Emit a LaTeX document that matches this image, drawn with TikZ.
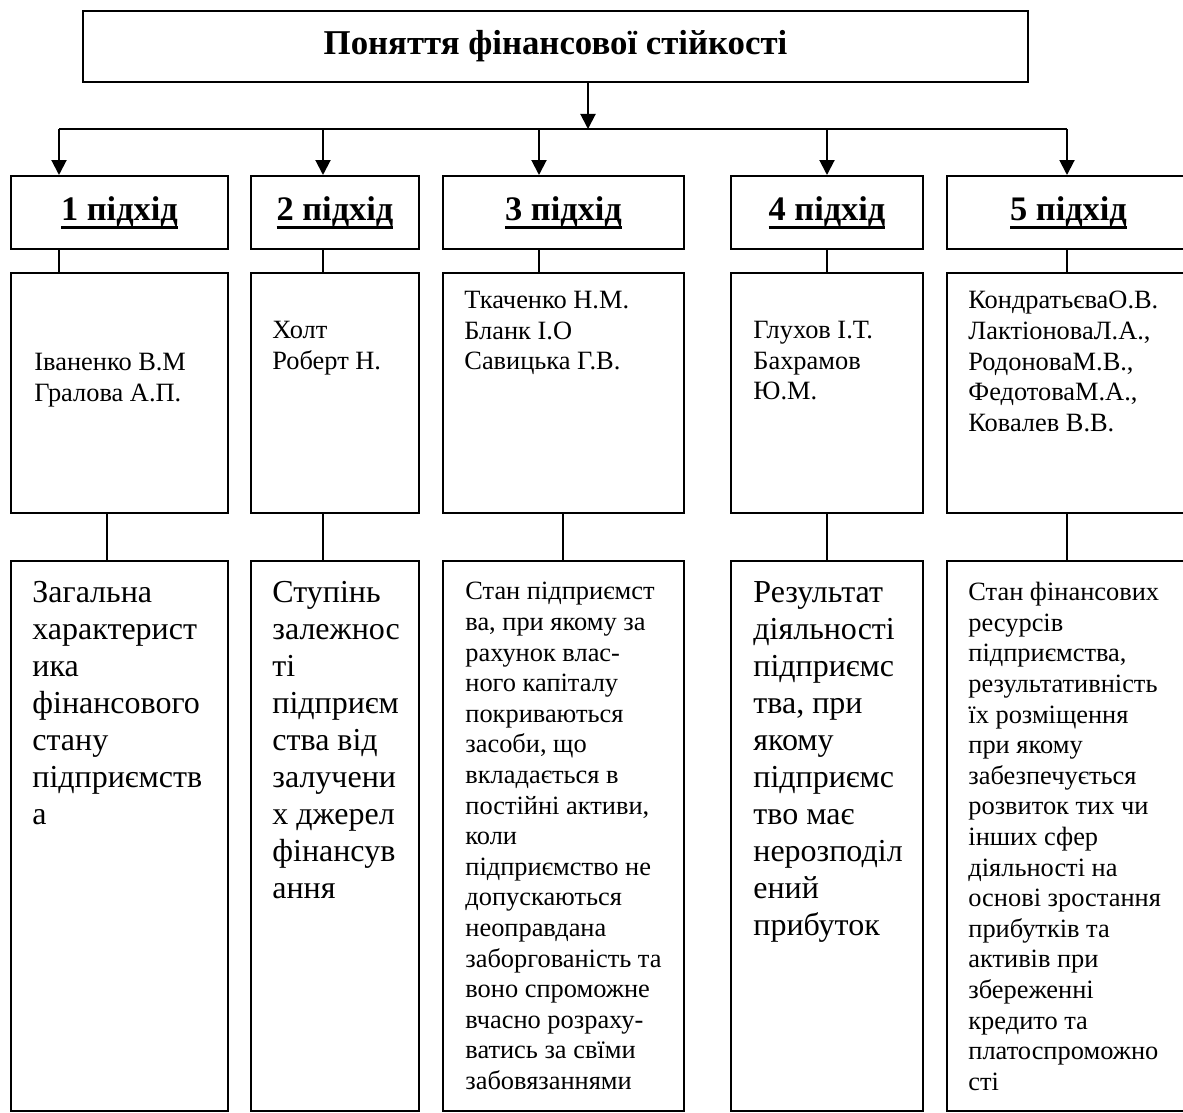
\documentclass[tikz,border=0pt]{standalone}
\usepackage{fontspec}
\setmainfont{Liberation Serif}
\usetikzlibrary{arrows.meta}
\newcommand{\headul}[1]{\setbox0\hbox{#1}\rlap{\rule[-4.2pt]{\wd0}{1.5pt}}\box0}

\begin{document}
\begin{tikzpicture}[x=0.5pt,y=-0.5pt,
  box/.style={draw,line width=1pt,inner sep=0pt},
  headbox/.style={box,minimum height=36.5pt,font=\fontsize{17.2}{20}\selectfont\bfseries},
  names/.style={anchor=north west,inner sep=0pt,align=left,font=\fontsize{13.2}{15.3}\selectfont},
  bigtxt/.style={anchor=north west,inner sep=0pt,align=left,font=\fontsize{16}{18.5}\selectfont},
  arr/.style={line width=1pt,-{Triangle[width=7.5pt,length=7.5pt]}},
  link/.style={line width=0.9pt}]
\useasboundingbox (0,0) rectangle (1183,1113);
\clip (0,0) rectangle (1183,1113);
% top box
\node[box,minimum width=472.5pt,minimum height=35.5pt,font=\fontsize{17.4}{20}\selectfont\bfseries] (title) at (555.5,46.5) {Поняття фінансової стійкості};
% five columns: frames and links
\foreach \n/\xl/\xr/\xa/\xb in {1/11/228/59/107,2/251/419/323/323,3/443/684/539/563,4/731/923/827/827,5/947/1190/1067/1067}{
  \node[headbox,minimum width={(\xr-\xl)*0.5pt}] (a\n) at ({(\xl+\xr)/2},212.5) {\headul{\n~підхід}};
  \node[box,minimum width={(\xr-\xl)*0.5pt},minimum height=120pt] (m\n) at ({(\xl+\xr)/2},393) {};
  \node[box,minimum width={(\xr-\xl)*0.5pt},minimum height=275pt] (l\n) at ({(\xl+\xr)/2},836) {};
  \coordinate (k\n) at (\xa,129);
  \coordinate (j\n) at (\xb,537);
  \draw[arr] (k\n) -- (k\n |- a\n.north);
  \draw[link] (a\n.south -| k\n) -- (m\n.north -| k\n);
  \draw[link] (m\n.south -| j\n) -- (l\n.north -| j\n);
}
\coordinate (hub) at (588,129);
\draw[arr] (title.south -| hub) -- (hub);
\draw[link] (k1) -- (k5);
% authors
\node[names] (n1) at (34,353) {Іваненко В.М\\Гралова А.П.};
\node[names] (n2) at (272,321) {Холт\\Роберт Н.};
\node[names] (n3) at (464,291) {Ткаченко Н.М.\\Бланк І.О\\Савицька Г.В.};
\node[names] (n4) at (753,321) {Глухов І.Т.\\Бахрамов\\Ю.М.};
\node[names] (n5) at (968,291) {КондратьєваО.В.\\ЛактіоноваЛ.А.,\\РодоноваМ.В.,\\ФедотоваМ.А.,\\Ковалев В.В.};
% definitions
\node[bigtxt] (d1) at (32,581) {Загальна\\характерист\\ика\\фінансового\\стану\\підприємств\\а};
\node[bigtxt] (d2) at (272,581) {Ступінь\\залежнос\\ті\\підприєм\\ства від\\залучени\\х джерел\\фінансув\\ання};
\node[names] (d3) at (465,582) {Стан підприємст\\ва, при якому за\\рахунок влас-\\ного капіталу\\покриваються\\засоби, що\\вкладається в\\постійні активи,\\коли\\підприємство не\\допускаються\\неоправдана\\заборгованість та\\воно спроможне\\вчасно розраху-\\ватись за свїми\\забовязаннями};
\node[bigtxt] (d4) at (753,581) {Результат\\діяльності\\підприємс\\тва, при\\якому\\підприємс\\тво має\\нерозподіл\\ений\\прибуток};
\node[names] (d5) at (968,582) {Стан фінансових\\ресурсів\\підприємства,\\результативність\\їх розміщення\\при якому\\забезпечується\\розвиток тих чи\\інших сфер\\діяльності на\\основі зростання\\прибутків та\\активів при\\збереженні\\кредито та\\платоспроможно\\сті};
\end{tikzpicture}
\end{document}
